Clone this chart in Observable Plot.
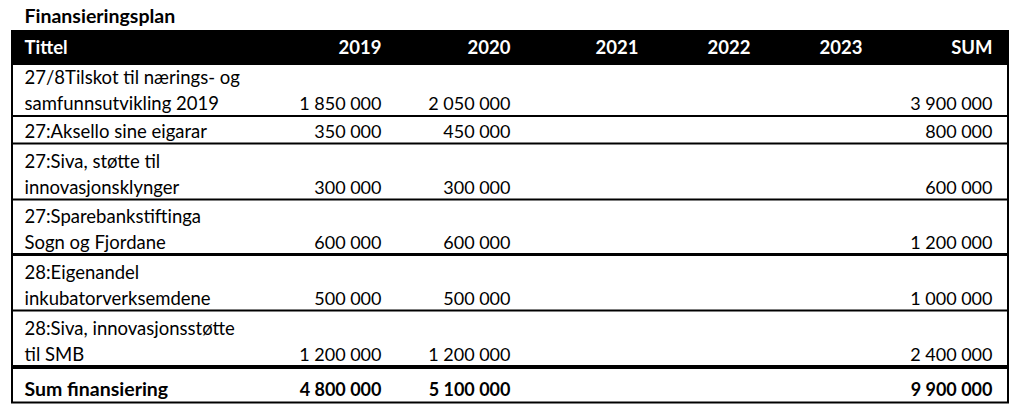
<!DOCTYPE html>
<html>
<head>
<meta charset="utf-8">
<script src="https://cdn.jsdelivr.net/npm/d3@7"></script>
<script src="https://cdn.jsdelivr.net/npm/@observablehq/plot@0.6"></script>
<style>
  html, body { margin: 0; padding: 0; background: #fff; }
  #chart svg { display: block; }
</style>
</head>
<body>
<div id="chart"></div>
<script>
// ---- data ----
const chartTitle = "Finansieringsplan";
const headers = ["Tittel", "2019", "2020", "2021", "2022", "2023", "SUM"];
const rowTitles = [
  "27/8Tilskot til nærings- og\nsamfunnsutvikling 2019",
  "27:Aksello sine eigarar",
  "27:Siva, støtte til\ninnovasjonsklynger",
  "27:Sparebankstiftinga\nSogn og Fjordane",
  "28:Eigenandel\ninkubatorverksemdene",
  "28:Siva, innovasjonsstøtte\ntil SMB"
];
const values2019 = [1850000, 350000, 300000, 600000, 500000, 1200000];
const values2020 = [2050000, 450000, 300000, 600000, 500000, 1200000];
const values2021 = [null, null, null, null, null, null];
const values2022 = [null, null, null, null, null, null];
const values2023 = [null, null, null, null, null, null];
const valuesSum  = [3900000, 800000, 600000, 1200000, 1000000, 2400000];
const totalLabel = "Sum finansiering";
const totals = [4800000, 5100000, null, null, null, 9900000];

// ---- layout (positions / sizes) ----
const W = 1023, H = 408;
const L = {
  left: 12, right: 1008, top: 31, headerBottom: 65,
  rowHeights: [50.5, 27.5, 56, 55, 56, 56.5],
  sumHeight: 36,
  textLeft: 24,
  colRight: {"2019": 381, "2020": 510, "2021": 638, "2022": 750, "2023": 862, "SUM": 992},
  lineGap: 26, baselineInset: 6,
  sepWidths: [2, 2, 2, 3, 2, 4],
  fontSize: 18.5, valueSize: 18, headerSize: 18.5, titleSize: 19.5, sumLabelSize: 19.5
};
const MID = 0.32; // Plot middle lineAnchor offset (em)

const fmt = d3.formatLocale({decimal: ",", thousands: " ", grouping: [3], currency: ["", ""]}).format(",d");
const seriesCols = [values2019, values2020, values2021, values2022, values2023, valuesSum];
const valueHeaders = headers.slice(1);

// row bounds
let yCursor = L.headerBottom;
const rows = rowTitles.map((t, i) => {
  const y1 = yCursor, y2 = yCursor + L.rowHeights[i];
  yCursor = y2;
  return {i, title: t, y1, y2};
});
const sumTop = yCursor, sumBottom = yCursor + L.sumHeight;

// text records
const titleLines = rows.flatMap(r => {
  const lines = r.title.split("\n");
  return lines.map((s, k) => ({
    text: s,
    base: r.y2 - L.baselineInset - (lines.length - 1 - k) * L.lineGap
  }));
});
const valueCells = rows.flatMap(r => valueHeaders.map((h, c) => ({
  text: seriesCols[c][r.i] == null ? null : fmt(seriesCols[c][r.i]),
  x: L.colRight[h],
  base: r.y2 - L.baselineInset
})).filter(d => d.text != null));
const totalCells = valueHeaders.map((h, c) => ({
  text: totals[c] == null ? null : fmt(totals[c]),
  x: L.colRight[h], base: sumBottom - 7
})).filter(d => d.text != null);
const headerBase = 53;
const headerFirst = [{text: headers[0], x: L.textLeft, base: headerBase}];
const headerRest = valueHeaders.map(h => ({text: h, x: L.colRight[h], base: headerBase}));
const separators = rows.map((r, k) => ({y: r.y2, w: L.sepWidths[k]}));

const yc = (base, fs) => base - MID * fs;

const plot = Plot.plot({
  width: W, height: H,
  margin: 0,
  x: {type: "linear", domain: [0, W], range: [0, W], axis: null},
  y: {type: "linear", domain: [0, H], range: [0, H], axis: null},
  style: {fontFamily: "Lato, 'Open Sans', sans-serif", background: "#fff", color: "#000"},
  marks: [
    // title
    Plot.text([chartTitle], {x: L.textLeft, y: yc(22, L.titleSize), text: d => d, textAnchor: "start",
      fontWeight: "bold", fontSize: L.titleSize, fill: "#000", lineAnchor: "middle"}),
    // header band
    Plot.rect([0], {x1: L.left, x2: L.right, y1: L.top, y2: L.headerBottom, fill: "#000"}),
    Plot.text(headerFirst, {x: "x", y: d => yc(d.base, L.headerSize), text: "text", textAnchor: "start",
      fill: "#fff", fontWeight: "bold", fontSize: L.headerSize, lineAnchor: "middle"}),
    Plot.text(headerRest, {x: "x", y: d => yc(d.base, L.headerSize), text: "text", textAnchor: "end",
      fill: "#fff", fontWeight: "bold", fontSize: L.headerSize, lineAnchor: "middle"}),
    // row separators
    Plot.ruleY(separators, {y: "y", x1: L.left, x2: L.right, stroke: "#000", strokeWidth: d => d.w}),
    // outer frame
    Plot.rect([0], {x1: L.left, x2: L.right, y1: L.top, y2: sumBottom, fill: "none", stroke: "#000", strokeWidth: 2}),
    // row titles
    Plot.text(titleLines, {x: L.textLeft, y: d => yc(d.base, L.fontSize), text: "text", textAnchor: "start",
      fill: "#000", fontSize: L.fontSize, lineAnchor: "middle"}),
    // values
    Plot.text(valueCells, {x: "x", y: d => yc(d.base, L.valueSize), text: "text", textAnchor: "end",
      fill: "#000", fontSize: L.valueSize, lineAnchor: "middle"}),
    // totals row
    Plot.text([totalLabel], {x: L.textLeft, y: yc(sumBottom - 7, L.sumLabelSize), text: d => d, textAnchor: "start",
      fill: "#000", fontWeight: "bold", fontSize: L.sumLabelSize, lineAnchor: "middle"}),
    Plot.text(totalCells, {x: "x", y: d => yc(d.base, L.valueSize), text: "text", textAnchor: "end",
      fill: "#000", fontWeight: "bold", fontSize: L.valueSize, lineAnchor: "middle"})
  ]
});
document.getElementById("chart").appendChild(plot);
</script>
</body>
</html>
